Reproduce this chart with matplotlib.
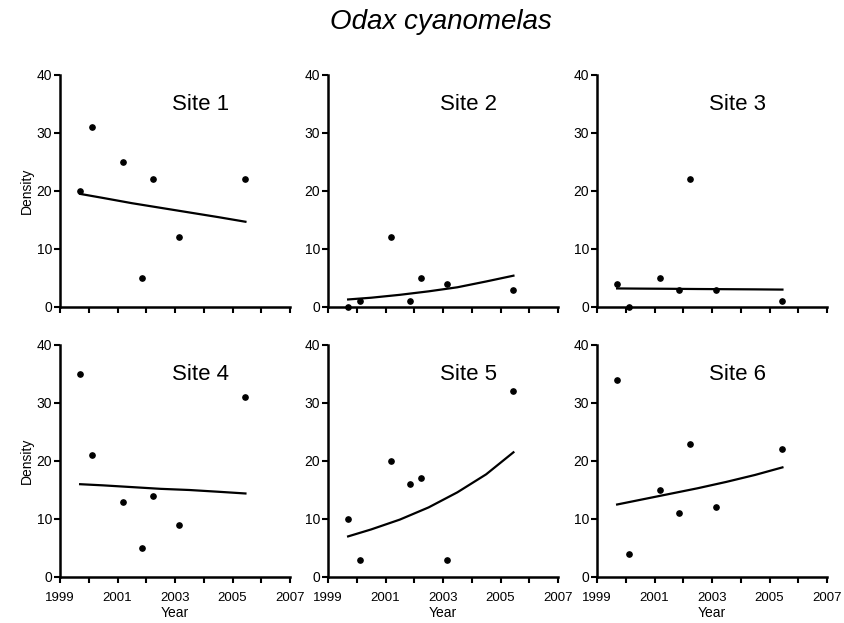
import matplotlib
matplotlib.use("Agg")
import matplotlib.pyplot as plt
from matplotlib.ticker import MultipleLocator, FixedLocator

plt.rcParams['font.family'] = ['Liberation Sans', 'DejaVu Sans']

years = [1999.7, 2000.1, 2001.2, 2001.85, 2002.25, 2003.15, 2005.45]
sites = ["Site 1", "Site 2", "Site 3", "Site 4", "Site 5", "Site 6"]
density = [
    [20, 31, 25, 5, 22, 12, 22],
    [0, 1, 12, 1, 5, 4, 3],
    [4, 0, 5, 3, 22, 3, 1],
    [35, 21, 13, 5, 14, 9, 31],
    [10, 3, 20, 16, 17, 3, 32],
    [34, 4, 15, 11, 23, 12, 22],
]
fit_years = [1999.7, 2000.5, 2001.5, 2002.5, 2003.5, 2004.5, 2005.45]
fit_values = [
    [19.5, 18.8, 17.9, 17.1, 16.3, 15.5, 14.7],
    [1.3, 1.6, 2.1, 2.7, 3.4, 4.4, 5.4],
    [3.2, 3.17, 3.14, 3.1, 3.07, 3.04, 3.0],
    [16.0, 15.8, 15.5, 15.2, 15.0, 14.7, 14.4],
    [7.0, 8.2, 9.9, 12.0, 14.6, 17.7, 21.5],
    [12.5, 13.3, 14.3, 15.3, 16.4, 17.6, 18.9],
]
x_ticks = [1999, 2001, 2003, 2005, 2007]
y_ticks = [0, 10, 20, 30, 40]

fig = plt.figure(figsize=(8.44, 6.23), dpi=100)
lefts = [60/844, 328/844, 597/844]
bottoms = [316/623, 46/623]
w = 230/844
h = 232/623

for i, name in enumerate(sites):
    r, c = divmod(i, 3)
    ax = fig.add_axes([lefts[c], bottoms[r], w, h])
    ax.plot(years, density[i], 'o', color='black', markersize=3.8, clip_on=False, zorder=3)
    ax.plot(fit_years, fit_values[i], '-', color='black', linewidth=1.6, clip_on=False)
    ax.set_xlim(1999, 2007)
    ax.set_ylim(0, 40)
    ax.xaxis.set_major_locator(FixedLocator(x_ticks))
    ax.xaxis.set_minor_locator(MultipleLocator(1))
    ax.yaxis.set_major_locator(FixedLocator(y_ticks))
    for s in ['top', 'right']:
        ax.spines[s].set_visible(False)
    for s in ['left', 'bottom']:
        ax.spines[s].set_linewidth(1.8)
    ax.tick_params(axis='both', which='major', direction='out', length=4.5, width=1.5, labelsize=9.5)
    ax.tick_params(axis='x', which='minor', direction='out', length=4.5, width=1.5)
    ax.tick_params(axis='x', pad=6)
    ax.tick_params(axis='y', pad=1, labelsize=10)
    ax.text(2003.9, 35, name, fontsize=16, ha='center', va='center')
    if r == 0:
        ax.set_xticklabels([])
    else:
        ax.set_xlabel('Year', fontsize=10, labelpad=2)
    if c == 0:
        ax.set_ylabel('Density', fontsize=10, labelpad=2)

fig.text(0.5225, 0.965, 'Odax cyanomelas', fontsize=20, style='italic', ha='center', va='center')

fig.savefig('out.png', dpi=100)
